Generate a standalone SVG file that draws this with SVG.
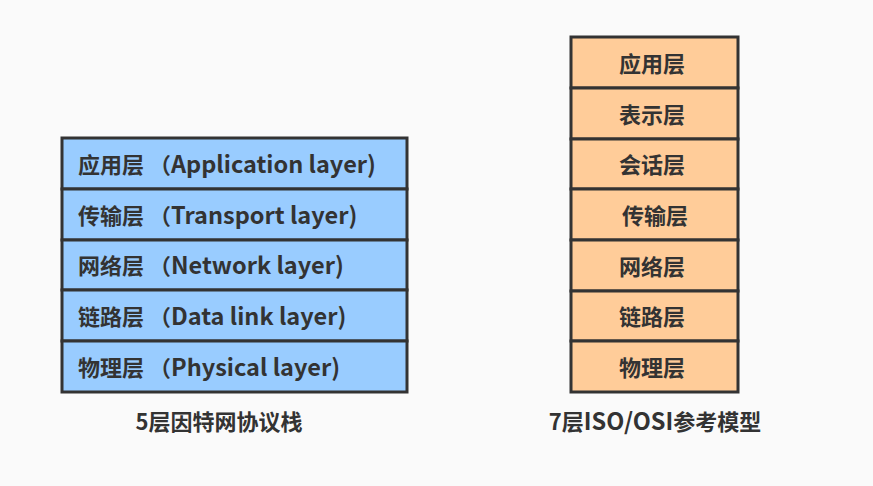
<svg xmlns="http://www.w3.org/2000/svg" width="873" height="486" viewBox="0 0 873 486">
<style>
text{font-family:"Noto Sans CJK SC","Noto Sans",sans-serif;font-weight:bold;fill:#333;font-size:22px}
.b{fill:#99ccff;stroke:#333;stroke-width:3}
.o{fill:#ffcc99;stroke:#333;stroke-width:3}
.c{text-anchor:middle}
.l{font-size:23.5px}
</style>
<rect width="873" height="486" fill="#fafafa"/>
<g id="tcpip">
<g id="l1"><rect class="b" x="62" y="138" width="345" height="51"/><text x="78" y="173">应用层 （<tspan class="l">Application layer)</tspan></text></g>
<g id="l2"><rect class="b" x="62" y="189" width="345" height="51"/><text x="78" y="224">传输层 （<tspan class="l">Transport layer)</tspan></text></g>
<g id="l3"><rect class="b" x="62" y="240" width="345" height="50"/><text x="78" y="274">网络层 （<tspan class="l">Network layer)</tspan></text></g>
<g id="l4"><rect class="b" x="62" y="290" width="345" height="51"/><text x="78" y="325">链路层 （<tspan class="l">Data link layer)</tspan></text></g>
<g id="l5"><rect class="b" x="62" y="341" width="345" height="51"/><text x="78" y="376">物理层 （<tspan class="l">Physical layer)</tspan></text></g>
<text class="c" x="219" y="430">5层因特网协议栈</text>
</g>
<g id="osi">
<g id="o1"><rect class="o" x="571" y="37" width="167" height="51"/><text class="c" x="652" y="72">应用层</text></g>
<g id="o2"><rect class="o" x="571" y="88" width="167" height="51"/><text class="c" x="652" y="123">表示层</text></g>
<g id="o3"><rect class="o" x="571" y="139" width="167" height="50"/><text class="c" x="652" y="173">会话层</text></g>
<g id="o4"><rect class="o" x="571" y="189" width="167" height="51"/><text class="c" x="655" y="224">传输层</text></g>
<g id="o5"><rect class="o" x="571" y="240" width="167" height="51"/><text class="c" x="652" y="275">网络层</text></g>
<g id="o6"><rect class="o" x="571" y="291" width="167" height="50"/><text class="c" x="652" y="325">链路层</text></g>
<g id="o7"><rect class="o" x="571" y="341" width="167" height="51"/><text class="c" x="652" y="376">物理层</text></g>
<text class="c" x="655" y="430">7层<tspan class="l">ISO/OSI</tspan>参考模型</text>
</g>
</svg>
